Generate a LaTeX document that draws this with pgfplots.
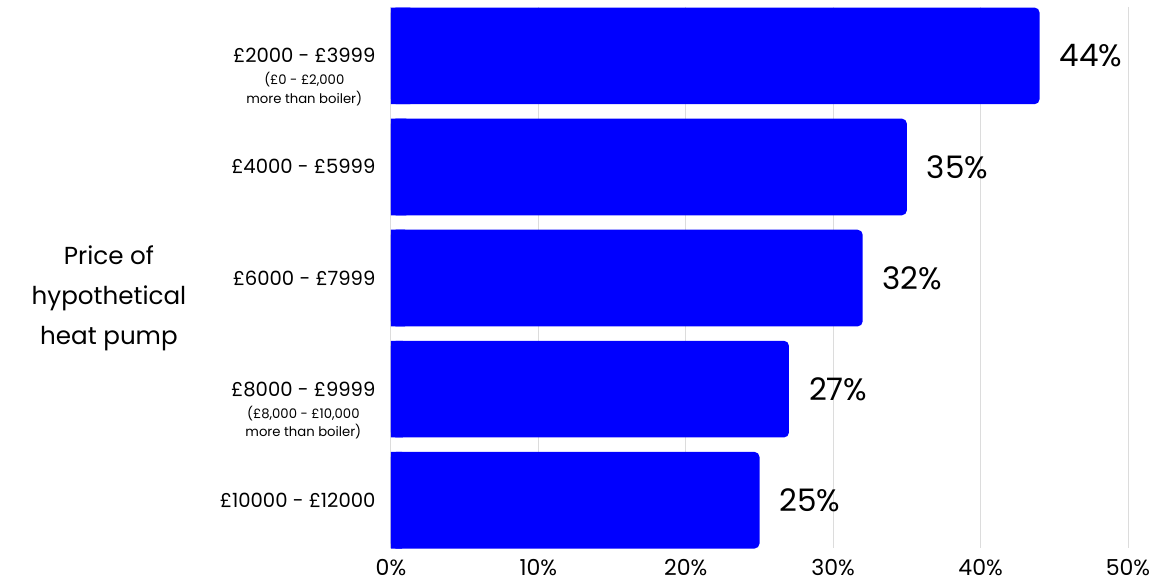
\documentclass[border=0pt]{standalone}
\usepackage{fontspec}
\setmainfont{Poppins}
\usepackage{pgfplots}
\pgfplotsset{compat=1.18}
\usepackage{pgfplotstable}
\usetikzlibrary{calc}
\definecolor{barblue}{HTML}{0000FF}
\definecolor{gridgray}{HTML}{DCDCDC}
\pgfplotstableread{
y v
0 44
1 35
2 32
3 27
4 25
}\datatable
\begin{document}
\begin{tikzpicture}
\begin{axis}[
  scale only axis,
  width=368.5bp, height=270.5bp,
  xmin=0, xmax=50,
  ymin=-0.44, ymax=4.43,
  y dir=reverse,
  axis line style={draw=none},
  xtick={0,10,20,30,40,50},
  xticklabels={0\%,10\%,20\%,30\%,40\%,50\%},
  xmajorgrids,
  major grid style={gridgray, line width=0.5bp},
  tick style={draw=none},
  ytick={0,1,2,3,4},
  yticklabels={
    {\begin{tabular}[t]{@{}c@{}}£2000 - £3999\\[0bp]{\fontsize{6.6bp}{8bp}\selectfont (£0 - £2,000}\\[-1.8bp]{\fontsize{6.6bp}{8bp}\selectfont more than boiler)}\end{tabular}},
    £4000 - £5999,
    £6000 - £7999,
    {\begin{tabular}[t]{@{}c@{}}£8000 - £9999\\[0bp]{\fontsize{6.6bp}{8bp}\selectfont (£8,000 - £10,000}\\[-1.8bp]{\fontsize{6.6bp}{8bp}\selectfont more than boiler)}\end{tabular}},
    £10000 - £12000},
  yticklabel style={font=\fontsize{9.8bp}{11bp}\selectfont, anchor=base east, yshift=-3.5bp, xshift=0bp},
  xticklabel style={font=\fontsize{11bp}{12bp}\selectfont, yshift=-2bp},
  /pgf/number format/assume math mode=true,
  xbar, bar width=0.87, bar shift=0pt,
  clip=false,
]
\addplot[fill=barblue, draw=none, rounded corners=2.5bp,
  nodes near coords={\pgfmathprintnumber{\pgfplotspointmeta}\%},
  point meta=explicit,
  every node near coord/.style={font=\fontsize{15.5bp}{17bp}\selectfont, anchor=west, xshift=6.5bp, text=black}]
  table[x=v, y=y, meta=v] {\datatable};
\addplot[fill=barblue, draw=none] table[x expr=\thisrow{v}*0.03, y=y] {\datatable};
\coordinate (BL) at (axis cs:0,4.43);
\coordinate (TR) at (axis cs:50,-0.44);
\end{axis}
\node[align=center, font=\fontsize{12.3bp}{20bp}\selectfont] at ([xshift=-141bp,yshift=-10.5bp]$(BL)!0.5!(BL|-TR)$) {Price of\\hypothetical\\heat pump};
\pgfresetboundingbox
\path ([xshift=-195.5bp,yshift=-17bp]BL) rectangle ([xshift=14bp,yshift=3.5bp]TR);
\end{tikzpicture}
\end{document}
